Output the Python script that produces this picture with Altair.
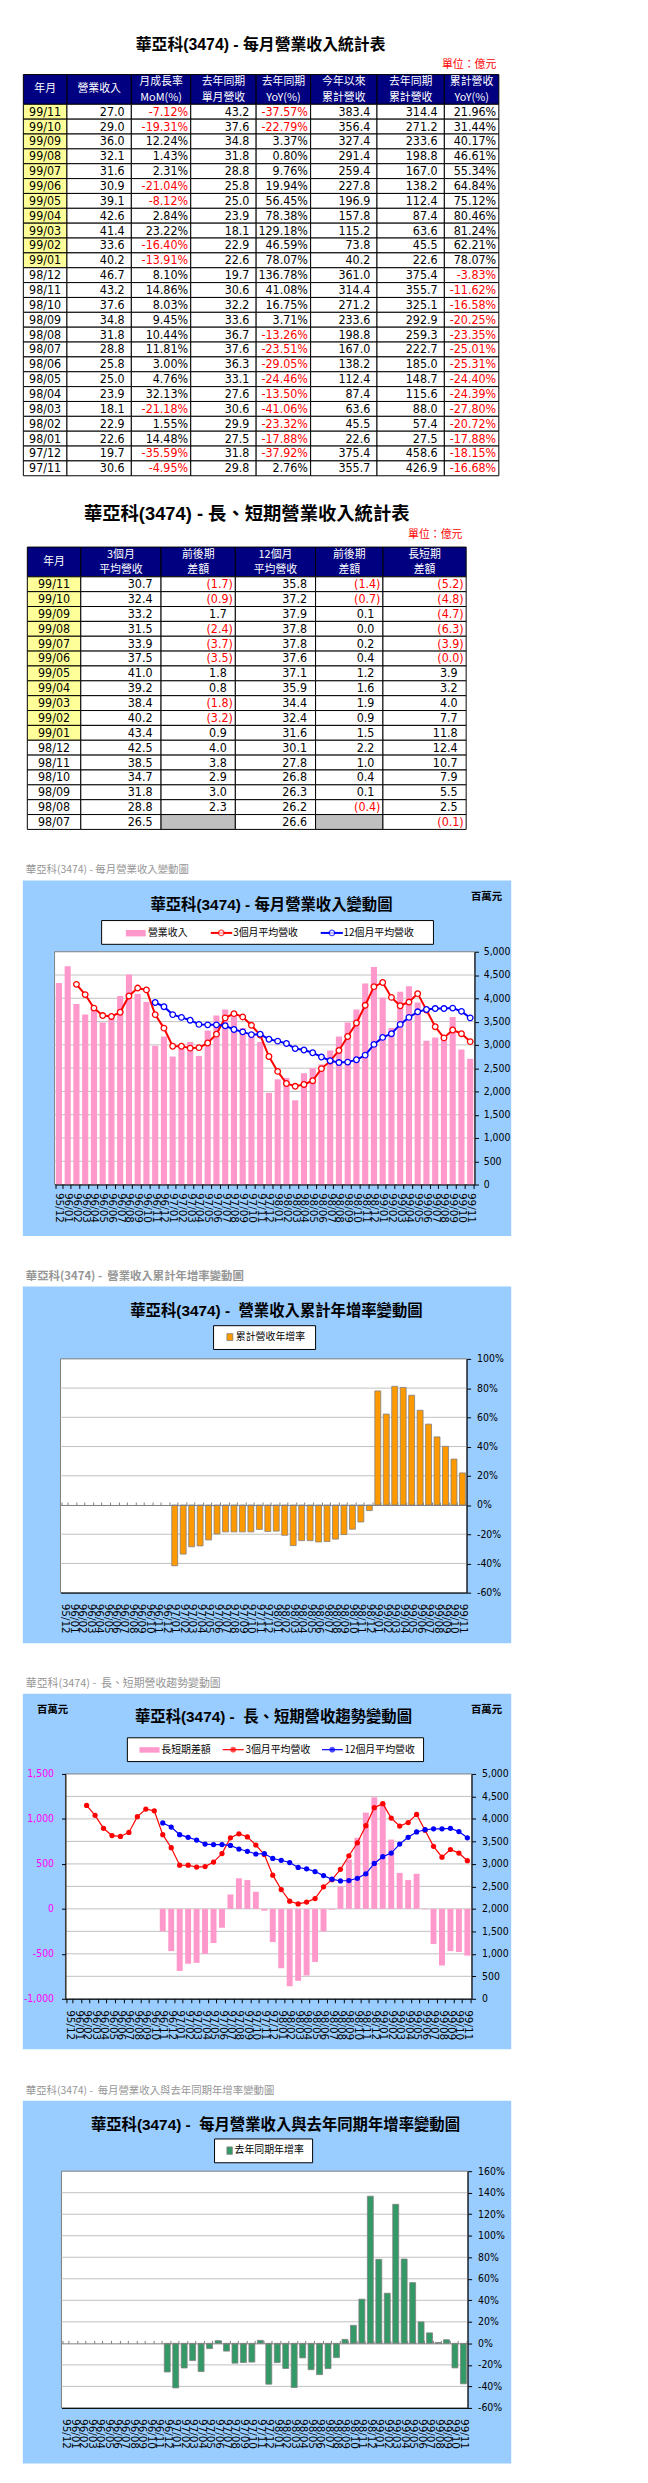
import altair as alt
import pandas as pd

# ---------------- chart values (百萬元 / %) ----------------
months = ["95/12",
          "96/01", "96/02", "96/03", "96/04", "96/05", "96/06", "96/07", "96/08", "96/09", "96/10", "96/11", "96/12",
          "97/01", "97/02", "97/03", "97/04", "97/05", "97/06", "97/07", "97/08", "97/09", "97/10", "97/11", "97/12",
          "98/01", "98/02", "98/03", "98/04", "98/05", "98/06", "98/07", "98/08", "98/09", "98/10", "98/11", "98/12",
          "99/01", "99/02", "99/03", "99/04", "99/05", "99/06", "99/07", "99/08", "99/09", "99/10", "99/11"]

revenue = [4330,
           4690, 3880, 3650, 3760, 3480, 3560, 4050, 4510, 4090, 3920, 2980, 3180,
           2750, 2990, 3060, 2760, 3310, 3630, 3760, 3670, 3360, 3220, 3060, 1970,
           2260, 2290, 1810, 2390, 2500, 2580, 2880, 3180, 3480, 3760, 4320, 4670,
           4020, 3360, 4140, 4260, 3910, 3090, 3160, 3210, 3600, 2900, 2700]
ma3 = [4300, 4080, 3790, 3630, 3610, 3700, 4050, 4220, 4180, 3650, 3360,
       2970, 2970, 2930, 2940, 3040, 3230, 3580, 3670, 3600, 3420, 3210, 2750,
       2430, 2170, 2110, 2150, 2230, 2490, 2650, 2880, 3180, 3470, 3850, 4250,
       4340, 4020, 3840, 3920, 4100, 3750, 3390, 3150, 3320, 3240, 3070]
ma12 = [3910, 3820,
        3650, 3590, 3530, 3440, 3430, 3430, 3410, 3330, 3280, 3220, 3230, 3120,
        3080, 3030, 2920, 2890, 2830, 2740, 2660, 2620, 2630, 2680, 2780, 3010,
        3160, 3240, 3440, 3590, 3710, 3760, 3780, 3780, 3790, 3720, 3580]
ls_diff = [-250, -470,
           -690, -610, -600, -500, -380, -210, 160, 340, 320, 190, -20, -370,
           -660, -860, -800, -740, -590, -250, -10, 250, 550, 790, 1070, 1240,
           1180, 770, 400, 320, 390, -5, -390, -630, -470, -480, -520]
cum_yoy = [-41.6, -33.6, -28.6, -28.0, -23.9, -19.8, -18.4, -18.4, -18.4, -18.4, -16.68, -18.15,
           -17.88, -20.72, -27.80, -24.39, -24.40, -25.31, -25.01, -23.35, -20.25, -16.58, -11.62, -3.83,
           78.07, 62.21, 81.24, 80.46, 75.12, 64.84, 55.34, 46.61, 40.17, 31.44, 21.96]
mon_yoy = [-26.6,
           -41.4, -22.9, -16.0, -26.2, -4.9, 2.5, -7.2, -18.4, -17.8, -17.4, 2.76, -37.92,
           -17.88, -23.32, -41.06, -13.50, -24.46, -29.05, -23.51, -13.26, 3.71, 16.75, 41.08, 136.78,
           78.07, 46.59, 129.18, 78.38, 56.45, 19.94, 9.76, 0.80, 3.37, -22.79, -37.57]

tick_rev = [0, 500, 1000, 1500, 2000, 2500, 3000, 3500, 4000, 4500, 5000]
tick_diff = [-1000, -500, 0, 500, 1000, 1500]
tick_cum = [-60, -40, -20, 0, 20, 40, 60, 80, 100]
tick_mon = [-60, -40, -20, 0, 20, 40, 60, 80, 100, 120, 140, 160]

# ---------------- table values (億元 / %) ----------------
t1_month = ["99/11", "99/10", "99/09", "99/08", "99/07", "99/06", "99/05", "99/04", "99/03", "99/02", "99/01",
            "98/12", "98/11", "98/10", "98/09", "98/08", "98/07", "98/06", "98/05", "98/04", "98/03", "98/02",
            "98/01", "97/12", "97/11"]
t1_rev = [27.0, 29.0, 36.0, 32.1, 31.6, 30.9, 39.1, 42.6, 41.4, 33.6, 40.2, 46.7, 43.2, 37.6, 34.8, 31.8,
          28.8, 25.8, 25.0, 23.9, 18.1, 22.9, 22.6, 19.7, 30.6]
t1_mom = [-7.12, -19.31, 12.24, 1.43, 2.31, -21.04, -8.12, 2.84, 23.22, -16.40, -13.91, 8.10, 14.86, 8.03,
          9.45, 10.44, 11.81, 3.00, 4.76, 32.13, -21.18, 1.55, 14.48, -35.59, -4.95]
t1_ly = [43.2, 37.6, 34.8, 31.8, 28.8, 25.8, 25.0, 23.9, 18.1, 22.9, 22.6, 19.7, 30.6, 32.2, 33.6, 36.7,
         37.6, 36.3, 33.1, 27.6, 30.6, 29.9, 27.5, 31.8, 29.8]
t1_yoy = [-37.57, -22.79, 3.37, 0.80, 9.76, 19.94, 56.45, 78.38, 129.18, 46.59, 78.07, 136.78, 41.08, 16.75,
          3.71, -13.26, -23.51, -29.05, -24.46, -13.50, -41.06, -23.32, -17.88, -37.92, 2.76]
t1_cum = [383.4, 356.4, 327.4, 291.4, 259.4, 227.8, 196.9, 157.8, 115.2, 73.8, 40.2, 361.0, 314.4, 271.2,
          233.6, 198.8, 167.0, 138.2, 112.4, 87.4, 63.6, 45.5, 22.6, 375.4, 355.7]
t1_lycum = [314.4, 271.2, 233.6, 198.8, 167.0, 138.2, 112.4, 87.4, 63.6, 45.5, 22.6, 375.4, 355.7, 325.1,
            292.9, 259.3, 222.7, 185.0, 148.7, 115.6, 88.0, 57.4, 27.5, 458.6, 426.9]
t1_cumyoy = [21.96, 31.44, 40.17, 46.61, 55.34, 64.84, 75.12, 80.46, 81.24, 62.21, 78.07, -3.83, -11.62,
             -16.58, -20.25, -23.35, -25.01, -25.31, -24.40, -24.39, -27.80, -20.72, -17.88, -18.15, -16.68]

t2_month = t1_month[:17]
t2_ma3 = [30.7, 32.4, 33.2, 31.5, 33.9, 37.5, 41.0, 39.2, 38.4, 40.2, 43.4, 42.5, 38.5, 34.7, 31.8, 28.8, 26.5]
t2_d3 = [-1.7, -0.9, 1.7, -2.4, -3.7, -3.5, 1.8, 0.8, -1.8, -3.2, 0.9, 4.0, 3.8, 2.9, 3.0, 2.3, None]
t2_ma12 = [35.8, 37.2, 37.9, 37.8, 37.8, 37.6, 37.1, 35.9, 34.4, 32.4, 31.6, 30.1, 27.8, 26.8, 26.3, 26.2, 26.6]
t2_d12 = [-1.4, -0.7, 0.1, 0.0, 0.2, 0.4, 1.2, 1.6, 1.9, 0.9, 1.5, 2.2, 1.0, 0.4, 0.1, -0.4, None]
t2_ls = [-5.2, -4.8, -4.7, -6.3, -3.9, -0.04, 3.9, 3.2, 4.0, 7.7, 11.8, 12.4, 10.7, 7.9, 5.5, 2.5, -0.1]

t1_headers = [["年月"], ["營業收入"], ["月成長率", "MoM(%)"], ["去年同期", "單月營收"], ["去年同期", "YoY(%)"],
              ["今年以來", "累計營收"], ["去年同期", "累計營收"], ["累計營收", "YoY(%)"]]
t2_headers = [["年月"], ["3個月", "平均營收"], ["前後期", "差額"], ["12個月", "平均營收"], ["前後期", "差額"],
              ["長短期", "差額"]]

TITLE_T1 = "華亞科(3474) - 每月營業收入統計表"
TITLE_T2 = "華亞科(3474) - 長、短期營業收入統計表"
UNIT = "單位：億元"
C1 = "華亞科(3474) - 每月營業收入變動圖"
C2 = "華亞科(3474) -\u00a0 營業收入累計年增率變動圖"
C3 = "華亞科(3474) -\u00a0 長、短期營收趨勢變動圖"
C4 = "華亞科(3474) -\u00a0 每月營業收入與去年同期年增率變動圖"

# ---------------- style / layout ----------------
W = 632
NUM = "Liberation Sans Narrow, DejaVu Sans Condensed, Liberation Sans, Noto Sans CJK TC, sans-serif"
XLAB = "DejaVu Sans, Liberation Sans, sans-serif"
CJK = "Noto Sans CJK TC, sans-serif"
TFONT = "Liberation Sans, Noto Sans CJK TC, sans-serif"
NAVY = "#000080"
YELLOW = "#FFFF99"
GRAY = "#C0C0C0"
RED = "#FF0000"
BLUE = "#0000FF"
PINK = "#FF99CC"
ORANGE = "#FF9900"
GREEN = "#339966"
PANEL = "#99CCFF"
LABEL_GRAY = "#969696"
COMMA = "replace(format(datum.value, ',d'), '\u2212', '-')"
PCT = "datum.value + '%'"


def sx():
    return alt.Scale(domain=[0, W], range=[0, W], nice=False, zero=False)


def sy(H):
    return alt.Scale(domain=[0, H], range=[0, H], nice=False, zero=False)


def TXT(rows, H, **kw):
    return alt.Chart(pd.DataFrame(rows)).mark_text(baseline="middle", **kw).encode(
        x=alt.X("x:Q", scale=sx(), axis=None),
        y=alt.Y("y:Q", scale=sy(H), axis=None),
        text=alt.Text("t:N"),
        color=alt.Color("c:N", scale=None))


def RECT(rows, H, **kw):
    return alt.Chart(pd.DataFrame(rows)).mark_rect(**kw).encode(
        x=alt.X("x:Q", scale=sx(), axis=None), x2=alt.X2("x2:Q"),
        y=alt.Y("y:Q", scale=sy(H), axis=None), y2=alt.Y2("y2:Q"),
        fill=alt.Fill("f:N", scale=None))


def SEG(rows, H, **kw):
    return alt.Chart(pd.DataFrame(rows)).mark_rule(**kw).encode(
        x=alt.X("x:Q", scale=sx(), axis=None), x2=alt.X2("x2:Q"),
        y=alt.Y("y:Q", scale=sy(H), axis=None),
        color=alt.Color("c:N", scale=None))


def DOT(rows, H, **kw):
    return alt.Chart(pd.DataFrame(rows)).mark_point(**kw).encode(
        x=alt.X("x:Q", scale=sx(), axis=None),
        y=alt.Y("y:Q", scale=sy(H), axis=None),
        stroke=alt.Stroke("c:N", scale=None),
        fill=alt.Fill("f:N", scale=None))


def band_scale(L, R):
    return alt.Scale(type="band", domain=months, range=[L, R], paddingInner=0.3, paddingOuter=0.15)


def point_scale(L, R):
    return alt.Scale(type="point", domain=months, range=[L, R], padding=0.5)


def lin(d0, d1, bot, top):
    return alt.Scale(domain=[d0, d1], range=[bot, top], nice=False, zero=False)


def x_axis(H, bot, pad, tick_op=1.0):
    return alt.Axis(orient="bottom", offset=bot - H, title=None, grid=False, zindex=1,
                    labelAngle=90, labelAlign="left", labelBaseline="middle",
                    labelFont=XLAB, labelFontSize=10.5, labelColor="black", labelPadding=pad,
                    labelOverlap=False, labelFlush=False, ticks=True, tickSize=4, tickOpacity=tick_op,
                    tickColor="black", tickBand="extent", domainColor="black")


def y_axis(orient, off, values, pad, expr, color="black"):
    return alt.Axis(orient=orient, offset=off, values=values, title=None, grid=False, zindex=1,
                    labelFont=NUM, labelFontSize=10.5, labelColor=color, labelPadding=pad,
                    ticks=True, tickSize=4, tickColor="black", domainColor="black",
                    labelOverlap=False, labelFlush=False, labelExpr=expr)


def grid(vals, ysc, L, R, color="#C0C0C0"):
    return alt.Chart(pd.DataFrame({"g": vals})).mark_rule(color=color, strokeWidth=1).encode(
        y=alt.Y("g:Q", scale=ysc, axis=None), x=alt.value(L), x2=alt.value(R))


def bars(mlist, vals, L, R, ysc, color, xax, yax, stroke=None):
    kw = dict(color=color)
    if stroke:
        kw.update(stroke=stroke, strokeWidth=0.8)
    return alt.Chart(pd.DataFrame({"m": mlist, "v": vals})).mark_bar(**kw).encode(
        x=alt.X("m:N", scale=band_scale(L, R), axis=xax),
        y=alt.Y("v:Q", scale=ysc, axis=yax),
        y2=alt.datum(0))


def line(mlist, vals, L, R, ysc, color, sw, pt, yax=None):
    return alt.Chart(pd.DataFrame({"m": mlist, "v": vals})).mark_line(color=color, strokeWidth=sw, point=pt).encode(
        x=alt.X("m:N", scale=point_scale(L, R), axis=None),
        y=alt.Y("v:Q", scale=ysc, axis=yax))


def zero_axis(L, R, y0):
    return alt.Chart(pd.DataFrame({"m": months})).mark_point(opacity=0).encode(
        x=alt.X("m:N", scale=band_scale(L, R),
                axis=alt.Axis(orient="top", offset=-y0, labels=False, ticks=True, tickSize=3,
                              tickBand="extent", tickColor="#808080", domainColor="#808080",
                              grid=False, title=None, zindex=1)))


def table_section(H, edges, head_top, headers, month_col, cols, num_inset, title, tpos, tsize, upos, gray=()):
    head_h, row_h = 30, 15
    cells, heads, dates, nums = [], [], [], []
    for c, lines in enumerate(headers):
        cells.append(dict(x=edges[c], x2=edges[c + 1], y=head_top, y2=head_top + head_h, f=NAVY))
        cx = (edges[c] + edges[c + 1]) / 2
        ys = [head_top + 15] if len(lines) == 1 else [head_top + 8, head_top + 23.5]
        for ln, yy in zip(lines, ys):
            heads.append(dict(x=cx, y=yy, t=ln, c="white"))
    body_top = head_top + head_h
    for r, m in enumerate(month_col):
        y0 = body_top + r * row_h
        for c in range(len(edges) - 1):
            f = "white"
            if c == 0 and m.startswith("99"):
                f = YELLOW
            if (m, c) in gray:
                f = GRAY
            cells.append(dict(x=edges[c], x2=edges[c + 1], y=y0, y2=y0 + row_h, f=f))
        dates.append(dict(x=(edges[0] + edges[1]) / 2, y=y0 + 7.5, t=m, c="black"))
        for c, (vals, kind) in enumerate(cols, start=1):
            v = vals[r]
            if v is None:
                continue
            neg = v < 0
            if kind == "pct":
                t, inset = f"{v:.2f}%", 2.7
            elif kind == "num":
                t, inset = f"{v:.1f}", num_inset
            else:
                t = f"({abs(v):.1f})" if neg else f"{v:.1f}"
                inset = 2.5 if neg else num_inset
            nums.append(dict(x=edges[c + 1] - inset, y=y0 + 7.5, t=t, c=RED if neg else "black"))
    return alt.layer(
        TXT([dict(x=tpos[0], y=tpos[1], t=title, c="black")], H, align="center", font=TFONT,
            fontSize=tsize, fontWeight="bold"),
        TXT([dict(x=upos[0], y=upos[1], t=UNIT, c=RED)], H, align="right", font=CJK, fontSize=11),
        RECT(cells, H, stroke="black", strokeWidth=1),
        TXT(heads, H, align="center", font=CJK, fontSize=11),
        TXT(dates, H, align="center", font=NUM, fontSize=12.5),
        TXT(nums, H, align="right", font=NUM, fontSize=12.5),
    ).properties(width=W, height=H)


# ---------------- section A: table 1 ----------------
HA = 472
secA = table_section(
    HA, [9.5, 53.5, 118.5, 178.5, 244.5, 299.5, 366.5, 434.5, 489.5], 55.5, t1_headers, t1_month,
    [(t1_rev, "num"), (t1_mom, "pct"), (t1_ly, "num"), (t1_yoy, "pct"), (t1_cum, "num"),
     (t1_lycum, "num"), (t1_cumyoy, "pct")], 6.8,
    TITLE_T1, (249, 26), 16, (487, 46))

# ---------------- section B: table 2 ----------------
HB = 370
secB = table_section(
    HB, [13.5, 67.5, 148.5, 223.5, 304.5, 372.5, 456.5], 60.5, t2_headers, t2_month,
    [(t2_ma3, "num"), (t2_d3, "par"), (t2_ma12, "num"), (t2_d12, "par"), (t2_ls, "par")], 8.6,
    TITLE_T2, (235, 27), 18.5, (452.7, 48.7), gray={("98/07", 2), ("98/07", 4)})


def panel_common(H, label, label_size, label_bold, label_y, panel_top, panel_bot, title, title_pos):
    lk = dict(align="left", font=CJK, fontSize=label_size)
    if label_bold:
        lk["fontWeight"] = "bold"
    return [
        TXT([dict(x=12, y=label_y, t=label, c=LABEL_GRAY)], H, **lk),
        RECT([dict(x=9, x2=502, y=panel_top, y2=panel_bot, f=PANEL)], H),
        TXT([dict(x=title_pos[0], y=title_pos[1], t=title, c="black")], H, align="center", font=TFONT,
            fontSize=15.5, fontWeight="bold"),
    ]


# ---------------- section C: monthly revenue chart ----------------
HC = 410
L1, R1, T1, B1 = 41, 465, 99, 334
y1 = lin(0, 5000, B1, T1)
secC = alt.layer(
    *panel_common(HC, C1, 10.5, False, 17, 27, 386, C1, (260, 52)),
    TXT([dict(x=477, y=43.5, t="百萬元", c="black")], HC, align="center", font=CJK, fontSize=10.5,
        fontWeight="bold"),
    RECT([dict(x=88.5, x2=423.5, y=67.5, y2=91.5, f="white")], HC, stroke="black", strokeWidth=1),
    RECT([dict(x=113, x2=133, y=77, y2=83.5, f=PINK)], HC),
    SEG([dict(x=198.7, x2=220.3, y=80, c=RED), dict(x=309.7, x2=332, y=80, c=BLUE)], HC, strokeWidth=2),
    DOT([dict(x=209.3, y=80, c=RED, f="white"), dict(x=321, y=80, c=BLUE, f="white")], HC,
        shape="circle", filled=True, size=32, strokeWidth=1.3),
    TXT([dict(x=135.3, y=80.3, t="營業收入", c="black"), dict(x=221.3, y=80.3, t="3個月平均營收", c="black"),
         dict(x=332.7, y=80.3, t="12個月平均營收", c="black")], HC, align="left", font=CJK, fontSize=10),
    RECT([dict(x=L1, x2=R1, y=T1, y2=B1, f="white")], HC, stroke="#808080", strokeWidth=1),
    grid(tick_rev[1:-1], y1, L1, R1),
    bars(months, revenue, L1, R1, y1, PINK, x_axis(HC, B1, 4),
         y_axis("right", R1 - W, tick_rev, 4.7, COMMA)),
    line(months[2:], ma3, L1, R1, y1, RED, 2,
         alt.OverlayMarkDef(filled=True, fill="white", stroke=RED, strokeWidth=1.3, size=32)),
    line(months[11:], ma12, L1, R1, y1, BLUE, 2,
         alt.OverlayMarkDef(filled=True, fill="white", stroke=BLUE, strokeWidth=1.3, size=32)),
).resolve_scale(x="independent", y="independent").properties(width=W, height=HC)

# ---------------- section D: cumulative YoY chart ----------------
HD = 390
L2, R2, T2, B2 = 47, 457, 100, 336
y2s = lin(-60, 100, B2, T2)
y0_2 = B2 - (0 - (-60)) / 160 * (B2 - T2)
secD = alt.layer(
    *panel_common(HD, C2, 11.5, True, 17, 27, 387, C2, (265, 52)),
    RECT([dict(x=201.5, x2=304.5, y=66.5, y2=90.5, f="white")], HD, stroke="black", strokeWidth=1),
    RECT([dict(x=215, x2=221, y=74.5, y2=81.5, f=ORANGE)], HD, stroke="#808080", strokeWidth=0.8),
    TXT([dict(x=224, y=78, t="累計營收年增率", c="black")], HD, align="left", font=CJK, fontSize=10),
    RECT([dict(x=L2, x2=R2, y=T2, y2=B2, f="white")], HD, stroke="#808080", strokeWidth=1),
    grid([-40, -20, 20, 40, 60, 80], y2s, L2, R2),
    bars(months[13:], cum_yoy, L2, R2, y2s, ORANGE, x_axis(HD, B2, 6.7, 0.0),
         y_axis("right", R2 - W, tick_cum, 6, PCT), stroke="#808080"),
    zero_axis(L2, R2, y0_2),
).resolve_scale(x="independent", y="independent").properties(width=W, height=HD)

# ---------------- section E: long/short trend chart ----------------
HE = 410
L3, R3, T3, B3 = 52, 462, 129, 356
y3r = lin(0, 5000, B3, T3)
y3l = lin(-1000, 1500, B3, T3)
secE = alt.layer(
    *panel_common(HE, C3, 11, False, 38, 48, 407, C3, (262, 71.5)),
    TXT([dict(x=39, y=64, t="百萬元", c="black"), dict(x=477, y=64, t="百萬元", c="black")], HE,
        align="center", font=CJK, fontSize=10.5, fontWeight="bold"),
    RECT([dict(x=114.5, x2=413.5, y=92.5, y2=116.5, f="white")], HE, stroke="black", strokeWidth=1),
    RECT([dict(x=126.7, x2=147, y=102, y2=107.5, f=PINK)], HE),
    SEG([dict(x=210.7, x2=232, y=104.5, c=RED), dict(x=311, x2=332, y=104.5, c=BLUE)], HE, strokeWidth=1.2),
    DOT([dict(x=221.3, y=104.5, c=RED, f=RED), dict(x=321.3, y=104.5, c=BLUE, f=BLUE)], HE,
        shape="circle", filled=True, size=28, strokeWidth=0.5),
    TXT([dict(x=148.7, y=104.5, t="長短期差額", c="black"), dict(x=233.7, y=104.5, t="3個月平均營收", c="black"),
         dict(x=333.7, y=104.5, t="12個月平均營收", c="black")], HE, align="left", font=CJK, fontSize=10),
    RECT([dict(x=L3, x2=R3, y=T3, y2=B3, f="white")], HE, stroke="#808080", strokeWidth=1),
    grid(tick_rev[1:-1], y3r, L3, R3),
    bars(months[11:], ls_diff, L3, R3, y3l, PINK, x_axis(HE, B3, 7),
         y_axis("left", -L3, tick_diff, 8, COMMA, color="#FF00FF")),
    line(months[2:], ma3, L3, R3, y3r, RED, 1.2, alt.OverlayMarkDef(filled=True, fill=RED, size=28),
         yax=y_axis("right", R3 - W, tick_rev, 6, COMMA)),
    line(months[11:], ma12, L3, R3, y3r, BLUE, 1.2, alt.OverlayMarkDef(filled=True, fill=BLUE, size=28)),
).resolve_scale(x="independent", y="independent").properties(width=W, height=HE)

# ---------------- section F: monthly YoY chart ----------------
HF = 415
L4, R4, T4, B4 = 48, 458, 120, 359
y4s = lin(-60, 160, B4, T4)
y0_4 = B4 - (0 - (-60)) / 220 * (B4 - T4)
secF = alt.layer(
    *panel_common(HF, C4, 10.5, False, 39, 49, HF, C4, (264, 73)),
    RECT([dict(x=202.5, x2=301.5, y=87.5, y2=111.5, f="white")], HF, stroke="black", strokeWidth=1),
    RECT([dict(x=215, x2=220.5, y=95.5, y2=103, f=GREEN)], HF, stroke="#808080", strokeWidth=0.8),
    TXT([dict(x=222.7, y=99, t="去年同期年增率", c="black")], HF, align="left", font=CJK, fontSize=10),
    RECT([dict(x=L4, x2=R4, y=T4, y2=B4, f="white")], HF, stroke="#808080", strokeWidth=1),
    grid([-40, -20, 20, 40, 60, 80, 100, 120, 140], y4s, L4, R4),
    bars(months[12:], mon_yoy, L4, R4, y4s, GREEN, x_axis(HF, B4, 6.7, 0.0),
         y_axis("right", R4 - W, tick_mon, 6, PCT), stroke="#808080"),
    zero_axis(L4, R4, y0_4),
).resolve_scale(x="independent", y="independent").properties(width=W, height=HF)

chart = alt.vconcat(secA, secB, secC, secD, secE, secF, spacing=0, bounds="flush").properties(
    padding=0, background="white").configure_view(strokeWidth=0)

chart.save("out.html", embed_options={"renderer": "svg", "actions": False})
